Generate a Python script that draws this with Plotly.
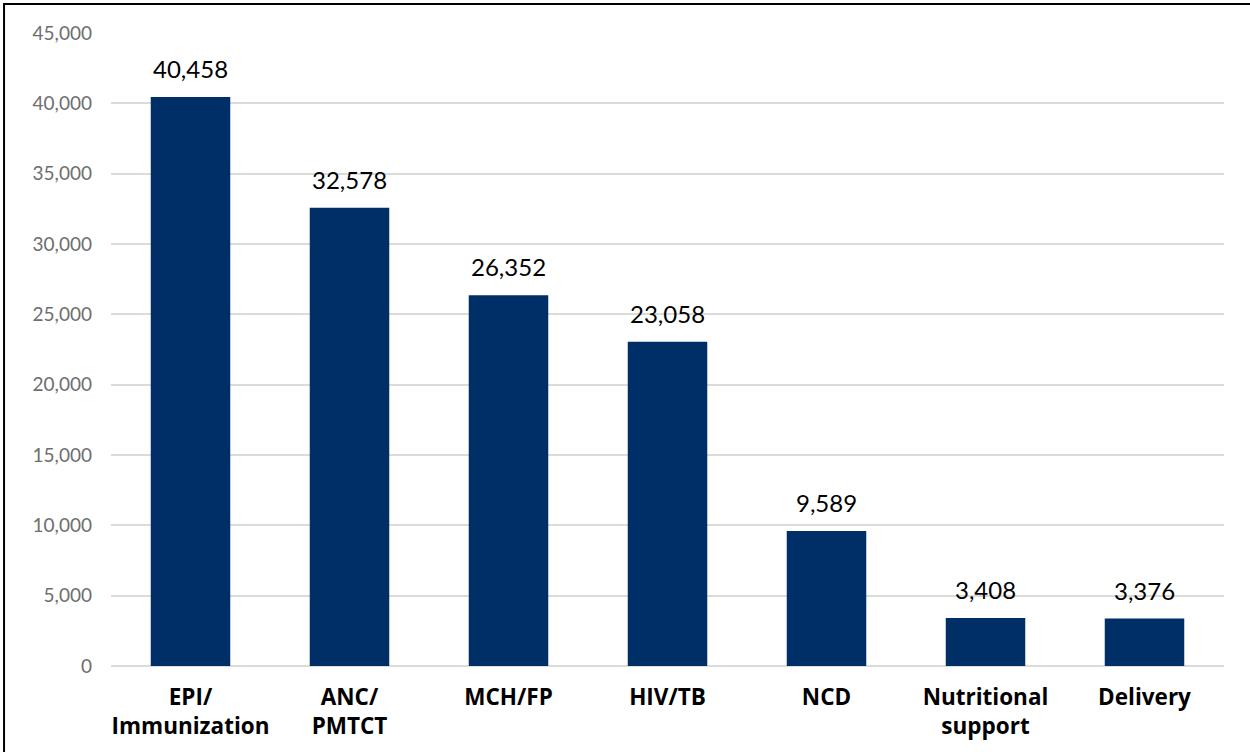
import plotly.graph_objects as go

categories = ["EPI/<br>Immunization", "ANC/<br>PMTCT", "MCH/FP", "HIV/TB", "NCD", "Nutritional<br>support", "Delivery"]
values = [40458, 32578, 26352, 23058, 9589, 3408, 3376]
tick_vals = [0, 5000, 10000, 15000, 20000, 25000, 30000, 35000, 40000, 45000]

fig = go.Figure(go.Bar(
    x=categories, y=values,
    marker=dict(color="#002E66", line=dict(width=0)),
    width=0.5,
))

for c, v in zip(categories, values):
    fig.add_annotation(x=c, y=v, text=f"{v:,}", showarrow=False,
                       yanchor="bottom", yshift=12,
                       font=dict(family="Lato", size=24, color="#000000"))

fig.update_layout(
    width=1250, height=752,
    margin=dict(l=111, r=26, t=33, b=86),
    paper_bgcolor="white", plot_bgcolor="white",
    font=dict(family="Lato"),
    showlegend=False,
    xaxis=dict(
        tickfont=dict(family="Open Sans", size=22.5, color="#000000", weight="bold"),
        showgrid=False, showline=False, zeroline=False,
        ticks="", ticklabelstandoff=15,
    ),
    yaxis=dict(
        range=[0, 45000], tickvals=tick_vals, tickformat=",",
        tickfont=dict(family="Lato", size=19, color="#6E6E6E"),
        showgrid=True, gridcolor="#D9DCD9", gridwidth=1.5,
        zeroline=True, zerolinecolor="#D9DCD9", zerolinewidth=1.5,
        showline=False, ticks="", ticklabelstandoff=18,
    ),
    shapes=[dict(type="rect", xref="paper", yref="paper",
                 x0=-0.0961, x1=1.035, y0=-0.139, y1=1.0458,
                 line=dict(color="#000000", width=2))],
)

fig.write_html("out.html", config={"displayModeBar": False},
               post_script="document.body.style.margin='0';")
